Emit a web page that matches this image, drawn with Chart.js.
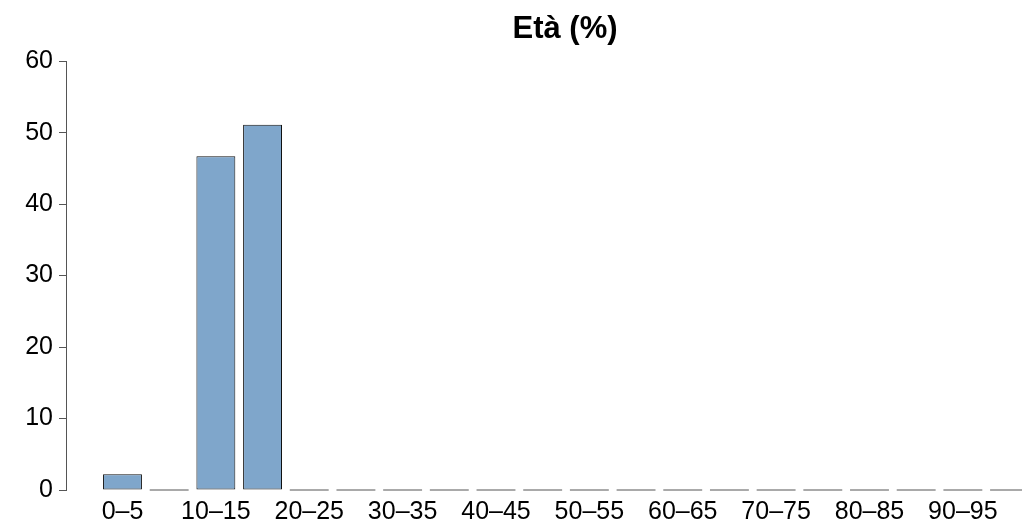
<!DOCTYPE html>
<html>
<head>
<meta charset="utf-8">
<script src="https://cdn.jsdelivr.net/npm/chart.js@4/dist/chart.umd.min.js"></script>
<style>
  html, body { margin: 0; padding: 0; background: #fff; overflow: hidden; }
  #wrap { width: 1022px; height: 520px; overflow: hidden; }
</style>
</head>
<body>
<div id="wrap">
  <canvas id="ageChart" width="1130" height="520"></canvas>
</div>
<script>
// Age groups (5-year bins) and share of respondents in %
const ageGroups = ['0–5', '5–10', '10–15', '15–20', '20–25', '25–30', '30–35', '35–40', '40–45', '45–50',
                   '50–55', '55–60', '60–65', '65–70', '70–75', '75–80', '80–85', '85–90', '90–95', '95–100'];
const percentages = [2.2, 0, 46.7, 51.1, 0, 0, 0, 0, 0, 0,
                     0, 0, 0, 0, 0, 0, 0, 0, 0, 0];
const yTicks = [0, 10, 20, 30, 40, 50, 60];

const barFill = '#7FA6CB';
const axisGrey = '#555555';

Chart.defaults.font.family = "'Liberation Sans', Arial, Helvetica, sans-serif";
Chart.defaults.color = '#000';

// Empty bins are drawn as a flat line at zero, like the original barplot
const zeroBars = {
    id: 'zeroBars',
    afterDatasetsDraw(chart) {
        const ctx = chart.ctx;
        const meta = chart.getDatasetMeta(0);
        const y0 = chart.scales.y.getPixelForValue(0);
        ctx.save();
        ctx.strokeStyle = '#555';
        ctx.lineWidth = 1;
        meta.data.forEach((bar, i) => {
            if (percentages[i] !== 0) return;
            const p = bar.getProps(['x', 'width'], true);
            ctx.beginPath();
            ctx.moveTo(p.x - p.width / 2, y0);
            ctx.lineTo(p.x + p.width / 2, y0);
            ctx.stroke();
        });
        ctx.restore();
    }
};

new Chart(document.getElementById('ageChart').getContext('2d'), {
    type: 'bar',
    data: {
        datasets: [{
            data: percentages.map((v, i) => ({ x: i, y: v })),
            backgroundColor: barFill,
            borderColor: '#111',
            borderWidth: 1,
            borderSkipped: false,
            barPercentage: 1 / 1.2,
            categoryPercentage: 1,
            clip: false
        }]
    },
    options: {
        responsive: false,
        animation: false,
        devicePixelRatio: 1,
        layout: { padding: 0 },
        plugins: {
            legend: { display: false },
            tooltip: { enabled: false },
            title: {
                display: true,
                text: 'Età (%)',
                color: '#000',
                font: { size: 31, weight: 'bold' },
                padding: { top: 11, bottom: 13 }
            }
        },
        scales: {
            x: {
                type: 'linear',
                offset: false,
                min: -1.21,
                max: 21.58,
                grid: { display: false, drawTicks: false },
                border: { display: false },
                afterBuildTicks: (scale) => {
                    scale.ticks = ageGroups.map((_, i) => ({ value: i }));
                },
                afterFit: (scale) => { scale.height = 30; },
                ticks: {
                    autoSkip: false,
                    maxRotation: 0,
                    padding: 7,
                    font: { size: 25 },
                    color: '#000',
                    callback: (value) => (value % 2 === 0 ? ageGroups[value] : '')
                }
            },
            y: {
                min: 0,
                max: 60,
                afterBuildTicks: (scale) => {
                    scale.ticks = yTicks.map(v => ({ value: v }));
                },
                afterFit: (scale) => { scale.width = 66; },
                grid: {
                    drawOnChartArea: false,
                    drawTicks: true,
                    tickLength: 7,
                    tickColor: axisGrey,
                    tickWidth: 1
                },
                border: { display: true, color: axisGrey, width: 1 },
                ticks: {
                    padding: 6,
                    font: { size: 25 },
                    color: '#000'
                }
            }
        }
    },
    plugins: [zeroBars]
});
</script>
</body>
</html>
